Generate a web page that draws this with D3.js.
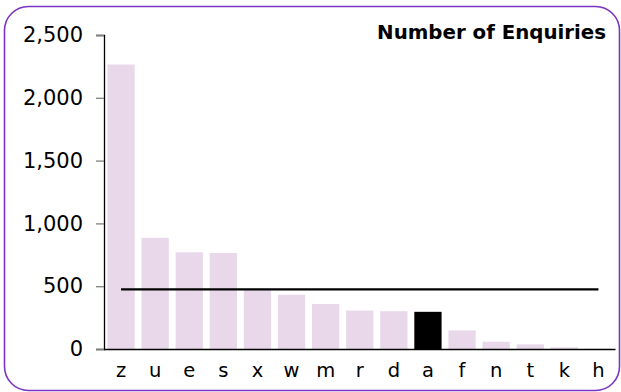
<!DOCTYPE html>
<html>
<head>
<meta charset="utf-8">
<script src="https://cdn.jsdelivr.net/npm/d3@7/dist/d3.min.js"></script>
<style>
  html, body { margin: 0; padding: 0; background: #fff; }
  svg { display: block; }
  text { font-family: Verdana, "DejaVu Sans", sans-serif; fill: #000; }
</style>
</head>
<body>
<svg id="chart" width="621" height="392"></svg>
<script>
// Enquiries per category, sorted high to low
const categories = ["z", "u", "e", "s", "x", "w", "m", "r", "d", "a", "f", "n", "t", "k", "h"];
const enquiries  = [2265, 885, 770, 765, 470, 432, 358, 306, 301, 296, 148, 58, 37, 13, 2];
const highlighted = ["a"];
const averageEnquiries = 475;
const yTicks = [0, 500, 1000, 1500, 2000, 2500];
const chartTitle = "Number of Enquiries";

const svg = d3.select("#chart");
const plot = { left: 104, right: 615.5, top: 35, bottom: 349 };

// Rounded purple frame
svg.append("rect")
  .attr("x", 4.5).attr("y", 6.5)
  .attr("width", 615).attr("height", 384)
  .attr("rx", 24).attr("ry", 24)
  .attr("fill", "#fff")
  .attr("stroke", "#7b35c1")
  .attr("stroke-width", 1.6);

const x = d3.scaleBand()
  .domain(categories)
  .range([plot.left, plot.right])
  .paddingInner(0.2)
  .paddingOuter(0.1);

const y = d3.scaleLinear()
  .domain([0, 2500])
  .range([plot.bottom, plot.top]);

// Bars
svg.append("g")
  .selectAll("rect")
  .data(categories)
  .join("rect")
  .attr("x", d => x(d))
  .attr("width", x.bandwidth())
  .attr("y", (d, i) => y(enquiries[i]))
  .attr("height", (d, i) => y(0) - y(enquiries[i]))
  .attr("fill", d => highlighted.includes(d) ? "#000" : "#e9d8ea");

// Average line across bar centres
const first = categories[0], last = categories[categories.length - 1];
svg.append("line")
  .attr("x1", x(first) + x.bandwidth() / 2)
  .attr("x2", x(last) + x.bandwidth() / 2)
  .attr("y1", y(averageEnquiries))
  .attr("y2", y(averageEnquiries))
  .attr("stroke", "#000")
  .attr("stroke-width", 2.2);

// Y axis
const yAxis = svg.append("g")
  .attr("transform", `translate(${plot.left},0)`)
  .call(d3.axisLeft(y).tickValues(yTicks).tickFormat(d3.format(",")).tickSize(8).tickPadding(13));
yAxis.select(".domain").attr("stroke", "#000").attr("stroke-width", 1.3);
yAxis.selectAll(".tick line").attr("stroke", "#808080").attr("stroke-width", 1.3);
yAxis.selectAll(".tick text")
  .style("font-family", "Verdana, 'DejaVu Sans', sans-serif")
  .style("font-size", "21px")
  .attr("fill", "#000");

// X axis
const xAxis = svg.append("g")
  .attr("transform", `translate(0,${plot.bottom})`)
  .call(d3.axisBottom(x).tickSize(0).tickPadding(14));
xAxis.select(".domain")
  .attr("d", `M${plot.left},0.5H${plot.right}`)
  .attr("stroke", "#000").attr("stroke-width", 1.3);
xAxis.selectAll(".tick text")
  .style("font-family", "Verdana, 'DejaVu Sans', sans-serif")
  .style("font-size", "19.5px")
  .attr("fill", "#000");

// Title
svg.append("text")
  .attr("x", 606)
  .attr("y", 39)
  .attr("text-anchor", "end")
  .style("font-size", "19.8px")
  .style("font-weight", "bold")
  .text(chartTitle);
</script>
</body>
</html>
